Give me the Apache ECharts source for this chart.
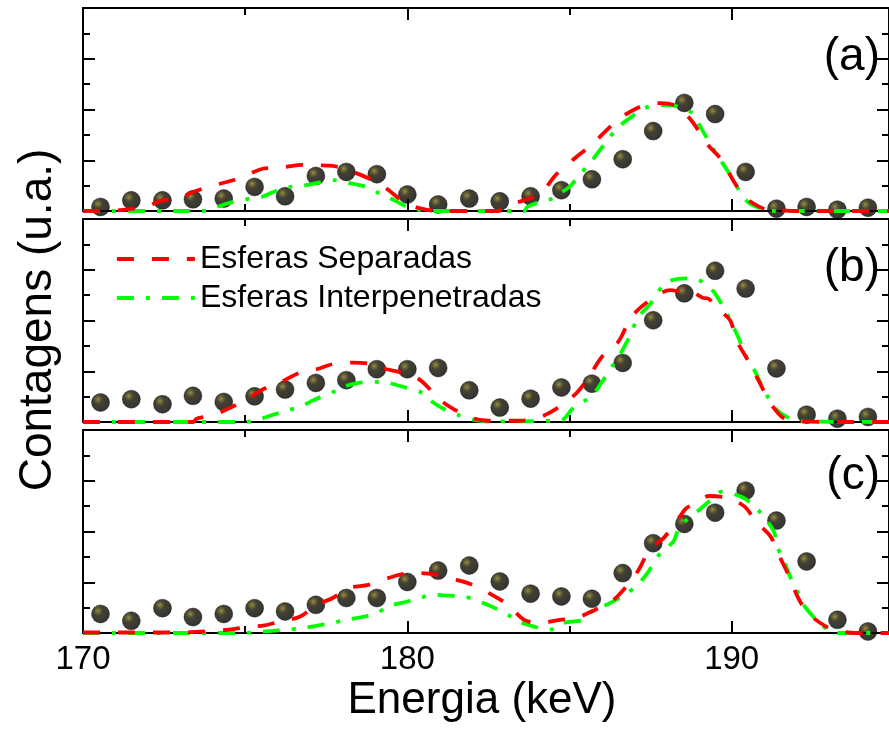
<!DOCTYPE html>
<html><head><meta charset="utf-8">
<script src="https://cdn.jsdelivr.net/npm/echarts@6/dist/echarts.min.js"></script>
<style>html,body{margin:0;padding:0;background:#fff}#c{width:889px;height:738px}</style>
</head><body><div id="c"></div>
<script>
// ---- data ----
const energies = [170.54,171.49,172.45,173.39,174.34,175.29,176.23,177.18,178.12,179.06,180.00,180.95,181.91,182.85,183.80,184.75,185.69,186.64,187.58,188.54,189.49,190.43,191.38,192.31,193.26,194.20];
const countsA = [0.16,0.42,0.42,0.46,0.49,0.95,0.58,1.38,1.54,1.45,0.65,0.26,0.49,0.38,0.58,0.82,1.25,2.04,3.15,4.26,3.82,1.54,0.09,0.16,0.05,0.13];
const countsB = [0.77,0.90,0.70,1.03,0.79,1.01,1.28,1.54,1.65,2.08,2.08,2.13,1.25,0.57,0.92,1.36,1.51,2.33,4.01,5.07,5.96,5.26,2.11,0.29,0.13,0.20];
const countsC = [0.75,0.48,0.98,0.63,0.75,0.98,0.85,1.11,1.38,1.38,2.01,2.46,2.66,2.03,1.55,1.44,1.35,2.36,3.54,4.30,4.74,5.61,4.43,2.82,0.52,0.06];

const sepA = [[170,0],[171,0.02],[171.6,0.1],[172,0.2],[172.4,0.4],[172.9,0.5],[173.5,0.8],[174,1.0],[174.6,1.2],[175.1,1.45],[175.6,1.68],[176.1,1.7],[176.7,1.82],[177.2,1.8],[177.7,1.78],[178.3,1.55],[178.8,1.29],[179.3,0.94],[179.9,0.35],[180.4,0.1],[181,0],[182.8,0],[183.05,0.22],[183.6,0.42],[184.1,0.69],[184.6,1.45],[185.2,2.12],[185.7,2.63],[186.3,3.38],[186.7,3.78],[187.3,4.17],[187.8,4.25],[188.3,4.13],[188.8,3.5],[189.2,2.7],[189.7,2.0],[190.05,1.2],[190.4,0.55],[190.8,0.2],[191.1,0.05],[191.6,0.02],[192,0],[194.85,0]];
const intA = [[170,0],[173.7,0],[174.1,0.15],[174.6,0.35],[175,0.46],[175.5,0.55],[176,0.82],[176.4,0.95],[176.8,1.0],[177.3,1.13],[177.7,1.22],[178.1,1.13],[178.7,0.97],[179.06,0.74],[179.4,0.55],[180,0.16],[180.4,0.04],[181,0],[183.6,0],[183.7,0.16],[184.1,0.36],[184.4,0.45],[184.7,0.7],[185,0.95],[185.2,1.25],[185.7,2.0],[186.1,2.67],[186.5,3.3],[186.9,3.7],[187.3,4.05],[187.8,4.17],[188.3,4.13],[188.8,3.85],[189.0,3.4],[189.2,2.95],[189.4,2.5],[190,1.33],[190.15,0.97],[190.5,0.35],[190.9,0.1],[191.3,0],[194.85,0]];

const sepB = [[170,0],[173.4,0],[173.5,0.13],[174,0.26],[174.6,0.6],[175,0.86],[175.6,1.32],[176.1,1.58],[176.7,1.95],[177.2,2.08],[177.7,2.28],[178.3,2.34],[178.8,2.3],[179.3,2.1],[179.9,1.91],[180.4,1.65],[181,0.88],[181.4,0.53],[182,0.15],[182.5,0.05],[183.5,0.05],[184.1,0.2],[184.6,0.53],[185.2,1.12],[185.6,1.78],[186,2.57],[186.5,3.16],[186.8,3.88],[187.1,4.41],[187.7,5.0],[188.1,5.2],[188.5,5.12],[188.8,5.1],[189.1,4.9],[189.3,4.85],[189.5,4.54],[189.95,4.01],[190.15,3.22],[190.5,2.43],[190.85,1.58],[191.2,0.73],[191.6,0.15],[192,0.05],[193,0],[194.85,0]];
const intB = [[170,0],[175,0],[175.4,0.09],[175.8,0.26],[176.3,0.46],[176.7,0.6],[177.1,0.86],[177.7,1.18],[178,1.38],[178.5,1.54],[179,1.58],[179.4,1.54],[179.8,1.41],[180.4,1.18],[180.7,0.86],[181.1,0.53],[181.6,0.26],[182,0.1],[182.5,0.02],[184.5,0.05],[184.8,0.1],[185.1,0.53],[185.7,1.05],[186,1.58],[186.3,2.17],[186.6,2.76],[186.9,3.49],[187.1,4.1],[187.5,4.67],[187.7,5.07],[188,5.52],[188.6,5.66],[189,5.59],[189.4,5.2],[189.8,4.41],[190,3.88],[190.2,3.35],[190.5,2.43],[190.7,2.04],[190.9,1.52],[191.3,0.6],[191.7,0.2],[192.2,0.02],[194.85,0]];

const sepC = [[170,0.02],[173,0.02],[174,0.08],[174.5,0.13],[175.1,0.24],[175.6,0.3],[176.1,0.46],[176.7,0.65],[177.2,1.11],[177.7,1.38],[178.2,1.77],[178.8,1.9],[179.4,2.16],[179.9,2.33],[180.4,2.36],[180.9,2.29],[181.5,2.1],[182,1.9],[182.6,1.51],[183.1,1.11],[183.6,0.52],[184.1,0.39],[184.7,0.52],[185.2,0.59],[185.8,0.92],[186.3,1.24],[186.75,1.83],[187.1,2.42],[187.5,3.34],[187.9,3.74],[188.4,4.59],[188.6,4.92],[188.9,5.11],[189.3,5.4],[189.9,5.31],[190.4,4.98],[190.75,4.39],[191.2,3.8],[191.5,2.95],[191.75,2.29],[192.05,1.38],[192.35,0.79],[192.9,0.26],[193.4,0.06],[193.8,0],[194.85,0]];
const intC = [[170,0],[175,0],[175.5,0.05],[176,0.1],[176.3,0.13],[176.8,0.2],[177.4,0.33],[177.7,0.39],[178.1,0.52],[178.7,0.65],[179.1,0.81],[179.4,1.05],[180,1.24],[180.4,1.38],[180.75,1.51],[181.3,1.47],[181.7,1.44],[182,1.35],[182.4,1.15],[182.7,0.98],[183.1,0.72],[183.4,0.46],[184.05,0.2],[184.4,0.13],[184.8,0.39],[185.4,0.52],[185.7,0.85],[186.2,1.15],[186.7,1.51],[187.1,1.9],[187.4,2.36],[187.8,3.15],[188.2,3.6],[188.4,4.19],[189,4.85],[189.3,5.18],[189.7,5.57],[190.3,5.37],[190.6,5.11],[190.9,4.72],[191.3,4.0],[191.4,3.41],[191.6,2.88],[191.8,2.23],[192.05,1.57],[192.25,1.05],[192.65,0.46],[193,0.1],[193.3,0],[194.85,0]];

const panelLabels = ['(a)','(b)','(c)'];
const xMajorTicks = [170,180,190];
const xMinorTicks = [175,185];
const seriesNames = ['Esferas Separadas','Esferas Interpenetradas'];

// ---- layout ----
const FONT = 'Liberation Sans, Arial, sans-serif';
const panelTops = [8,219,430];
const panelH = 203;
const X_MIN = 170, X_MAX = 194.85;
const counts = [countsA,countsB,countsC];
const seps = [sepA,sepB,sepC];
const ints = [intA,intB,intC];
const LW = 3.8;

const grid = [], xAxis = [], yAxis = [], series = [];
const axisLine = {show:true, onZero:false, lineStyle:{color:'#000', width:2}};
panelTops.forEach((top,i)=>{
  grid.push({left:83, right:-1, top:top, height:panelH});
  const base = {gridIndex:i, type:'value', min:X_MIN, max:X_MAX, axisLine:axisLine, splitLine:{show:false}};
  xAxis.push(Object.assign({}, base, {position:'bottom',
    axisTick:{show:true, inside:true, length:12, lineStyle:{width:2,color:'#000'}, customValues:xMajorTicks},
    axisLabel:{show:i===2, customValues:xMajorTicks, fontSize:33, fontFamily:FONT, color:'#000', margin:10}}));
  xAxis.push(Object.assign({}, base, {position:'bottom',
    axisTick:{show:true, inside:true, length:7, lineStyle:{width:2,color:'#000'}, customValues:xMinorTicks},
    axisLabel:{show:false}}));
  xAxis.push(Object.assign({}, base, {position:'top',
    axisTick:{show:true, inside:true, length:12, lineStyle:{width:2,color:'#000'}, customValues:xMajorTicks},
    axisLabel:{show:false}}));
  xAxis.push(Object.assign({}, base, {position:'top',
    axisTick:{show:true, inside:true, length:7, lineStyle:{width:2,color:'#000'}, customValues:xMinorTicks},
    axisLabel:{show:false}}));
  ['left','right'].forEach(pos=>{
    yAxis.push({gridIndex:i, type:'value', min:0, max:8, interval:2, position:pos,
      axisLine:axisLine, splitLine:{show:false}, axisLabel:{show:false},
      axisTick:{show:true, inside:true, length:12, lineStyle:{width:2,color:'#000'}},
      minorTick:{show:true, splitNumber:2, length:7, lineStyle:{width:2,color:'#000'}},
      minorSplitLine:{show:false}});
  });
  series.push({type:'scatter', name:'dados', xAxisIndex:i*4, yAxisIndex:i*2, z:2,
    data: energies.map((e,k)=>[e, counts[i][k]]),
    symbolSize:18,
    itemStyle:{color:{type:'radial', x:0.36, y:0.33, r:0.72, colorStops:[
      {offset:0,color:'#85760f'},{offset:0.14,color:'#4e4506'},{offset:0.36,color:'#141100'},{offset:1,color:'#000'}]},
      borderColor:'#000', borderWidth:0.5}});
  series.push({type:'line', name:seriesNames[0], xAxisIndex:i*4, yAxisIndex:i*2, z:4,
    data:seps[i], smooth:0.3, symbol:'none', showSymbol:false,
    lineStyle:{color:'#ff0000', width:LW, type:[17,18], cap:'butt'}, itemStyle:{color:'#ff0000'}});
  series.push({type:'line', name:seriesNames[1], xAxisIndex:i*4, yAxisIndex:i*2, z:3,
    data:ints[i], smooth:0.3, symbol:'none', showSymbol:false,
    lineStyle:{color:'#00ff00', width:LW, type:[17,12,4,12], cap:'butt'}, itemStyle:{color:'#00ff00'}});
});

const graphic = [
  {type:'text', x:38, y:320, rotation:Math.PI/2, style:{text:'Contagens (u.a.)', font:'46px '+FONT, fill:'#000', textAlign:'center', textVerticalAlign:'middle'}},
  {type:'text', x:482, y:701, style:{text:'Energia (keV)', font:'44px '+FONT, fill:'#000', textAlign:'center', textVerticalAlign:'middle'}},
];
const labelY = [57,268,476];
panelLabels.forEach((t,i)=>graphic.push({type:'text', x:880, y:labelY[i], style:{text:t, font:'46px '+FONT, fill:'#000', textAlign:'right', textVerticalAlign:'middle'}}));

const chart = echarts.init(document.getElementById('c'), null, {renderer:'canvas'});
chart.setOption({
  animation:false,
  backgroundColor:'#fff',
  grid, xAxis, yAxis, series, graphic,
  legend:{data:seriesNames, orient:'vertical', left:115, top:241, padding:0, itemWidth:78, itemHeight:14, itemGap:3,
    selectedMode:false,
    lineStyle:{width:LW},
    itemStyle:{color:'rgba(0,0,0,0)', borderColor:'rgba(0,0,0,0)', borderWidth:0, opacity:0},
    textStyle:{fontSize:32, fontFamily:FONT, color:'#000', lineHeight:36}}
});
</script></body></html>
